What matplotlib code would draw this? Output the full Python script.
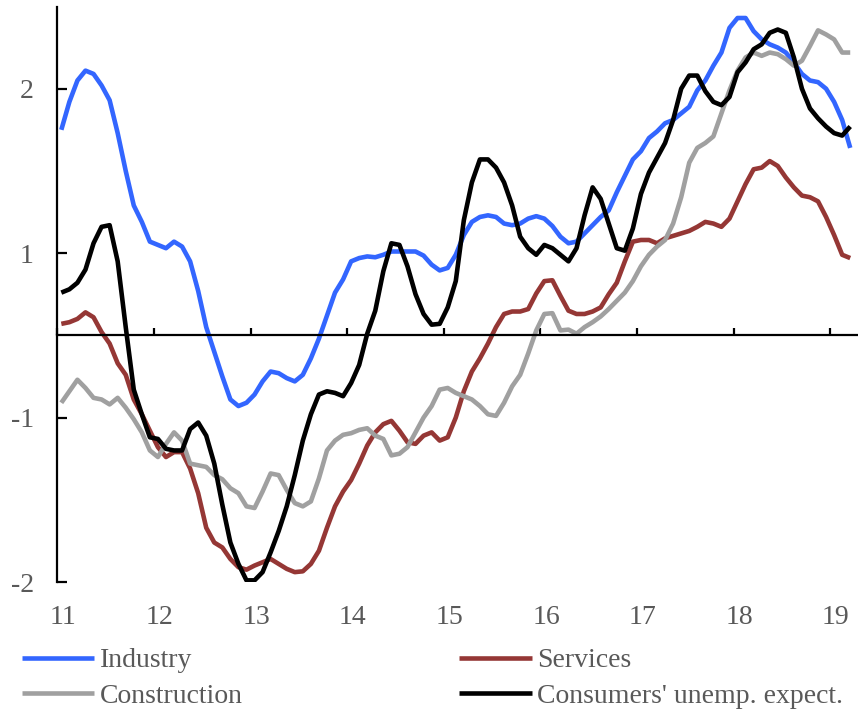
import numpy as np
import matplotlib
matplotlib.use("Agg")
import matplotlib.pyplot as plt

# ---- data (monthly, Jan 2011 - Mar 2019) ----
industry = [1.25, 1.42, 1.55, 1.61, 1.59, 1.52, 1.43, 1.23, 1.00, 0.79, 0.69, 0.57, 0.55, 0.53, 0.57, 0.54, 0.45, 0.27, 0.05, -0.10,
            -0.25, -0.39, -0.43, -0.41, -0.36, -0.28, -0.22, -0.23, -0.26, -0.28, -0.24, -0.14, -0.02, 0.12, 0.26, 0.34, 0.45, 0.47, 0.48, 0.475,
            0.49, 0.51, 0.51, 0.51, 0.51, 0.485, 0.43, 0.395, 0.41, 0.49, 0.61, 0.69, 0.72, 0.73, 0.72, 0.68, 0.67, 0.68, 0.71, 0.725,
            0.71, 0.665, 0.60, 0.56, 0.57, 0.62, 0.67, 0.72, 0.76, 0.87, 0.97, 1.07, 1.12, 1.20, 1.24, 1.29, 1.31, 1.35, 1.39, 1.49,
            1.55, 1.64, 1.72, 1.87, 1.93, 1.93, 1.85, 1.80, 1.77, 1.75, 1.72, 1.66, 1.59, 1.55, 1.54, 1.50, 1.42, 1.31, 1.14]

services = [0.07, 0.08, 0.10, 0.14, 0.11, 0.02, -0.05, -0.17, -0.24, -0.39, -0.48, -0.58, -0.68, -0.74, -0.71, -0.71, -0.81, -0.96, -1.17, -1.26,
            -1.29, -1.36, -1.41, -1.425, -1.40, -1.38, -1.36, -1.39, -1.42, -1.44, -1.435, -1.39, -1.31, -1.17, -1.04, -0.95, -0.88, -0.78, -0.67, -0.59,
            -0.54, -0.52, -0.58, -0.65, -0.66, -0.61, -0.59, -0.64, -0.62, -0.50, -0.34, -0.22, -0.14, -0.05, 0.05, 0.13, 0.145, 0.145, 0.16, 0.255,
            0.33, 0.335, 0.24, 0.15, 0.13, 0.13, 0.145, 0.17, 0.25, 0.32, 0.45, 0.57, 0.58, 0.58, 0.56, 0.59, 0.605, 0.62, 0.635, 0.66,
            0.69, 0.68, 0.66, 0.71, 0.815, 0.92, 1.01, 1.02, 1.06, 1.03, 0.96, 0.90, 0.85, 0.84, 0.815, 0.72, 0.61, 0.49, 0.47]

construction = [-0.41, -0.34, -0.27, -0.32, -0.38, -0.39, -0.42, -0.38, -0.44, -0.51, -0.59, -0.70, -0.74, -0.66, -0.59, -0.64, -0.78, -0.79, -0.80, -0.85,
                -0.875, -0.93, -0.96, -1.04, -1.05, -0.95, -0.84, -0.85, -0.94, -1.02, -1.04, -1.01, -0.87, -0.70, -0.64, -0.605, -0.595, -0.575, -0.565, -0.61,
                -0.63, -0.73, -0.72, -0.68, -0.59, -0.50, -0.43, -0.33, -0.32, -0.35, -0.37, -0.39, -0.43, -0.48, -0.49, -0.41, -0.31, -0.24, -0.11, 0.03,
                0.13, 0.135, 0.03, 0.035, 0.01, 0.05, 0.08, 0.115, 0.16, 0.21, 0.26, 0.33, 0.42, 0.49, 0.54, 0.58, 0.68, 0.84, 1.05, 1.14,
                1.17, 1.21, 1.35, 1.49, 1.61, 1.69, 1.72, 1.70, 1.72, 1.71, 1.68, 1.64, 1.67, 1.76, 1.855, 1.83, 1.80, 1.72, 1.72]

consumers = [0.26, 0.28, 0.32, 0.40, 0.56, 0.66, 0.67, 0.45, 0.05, -0.33, -0.48, -0.62, -0.63, -0.69, -0.70, -0.70, -0.57, -0.53, -0.61, -0.78,
             -1.03, -1.26, -1.39, -1.49, -1.49, -1.44, -1.32, -1.19, -1.04, -0.85, -0.64, -0.48, -0.36, -0.34, -0.35, -0.37, -0.29, -0.18, 0.01, 0.15,
             0.39, 0.56, 0.55, 0.42, 0.25, 0.13, 0.065, 0.07, 0.17, 0.33, 0.70, 0.93, 1.07, 1.07, 1.02, 0.93, 0.79, 0.60, 0.53, 0.49,
             0.55, 0.53, 0.49, 0.45, 0.53, 0.73, 0.90, 0.83, 0.68, 0.53, 0.515, 0.65, 0.86, 0.99, 1.08, 1.17, 1.31, 1.50, 1.58, 1.58,
             1.485, 1.42, 1.40, 1.45, 1.60, 1.66, 1.74, 1.77, 1.84, 1.86, 1.84, 1.69, 1.50, 1.38, 1.32, 1.27, 1.23, 1.215, 1.27]

series_names = ["Industry", "Services", "Construction", "Consumers' unemp. expect."]
series_colors = ["#3366FF", "#953735", "#A0A0A0", "#000000"]

year_ticks = [11, 12, 13, 14, 15, 16, 17, 18, 19]
year_labels = ["11", "12", "13", "14", "15", "16", "17", "18", "19"]
y_ticks = [-1.5, -0.5, 0.5, 1.5]
y_labels = ["-2", "-1", "1", "2"]

start_year = 11
months = np.arange(len(industry))
x = start_year + (months + 0.5) / 12.0

TXT = "#595959"
FS = 20
plt.rcParams['font.family'] = ['Liberation Serif', 'DejaVu Serif']

fig = plt.figure(figsize=(8.58, 7.15), dpi=100)
ax = fig.add_axes([57.3 / 858, 1 - 582 / 715, 1 - 57.3 / 858, (582 - 6.5) / 715])

data = [industry, services, construction, consumers]
handles = []
for vals, name, col in zip(data, series_names, series_colors):
    ln, = ax.plot(x, vals, color=col, lw=3.3, solid_joinstyle='round',
                  solid_capstyle='butt', label=name)
    handles.append(ln)

ax.set_xlim(11, 11 + (858 - 57.3) / 96.6)
ax.set_ylim(-1.5, 2.0)

for s in ['top', 'right']:
    ax.spines[s].set_visible(False)
ax.spines['left'].set_linewidth(1.6)
ax.spines['left'].set_color('black')
ax.spines['bottom'].set_position(('data', 0))
ax.spines['bottom'].set_linewidth(1.6)
ax.spines['bottom'].set_color('black')

ax.set_yticks(y_ticks)
ax.set_yticklabels(y_labels)
ax.tick_params(axis='y', direction='in', length=7.5, width=1.6, color='black',
               labelsize=FS, labelcolor=TXT, pad=17)

ax.set_xticks(year_ticks)
ax.set_xticklabels([])
ax.tick_params(axis='x', direction='in', length=5, width=1.6, color='black')

trans = matplotlib.transforms.blended_transform_factory(ax.transData, fig.transFigure)
for yr, lab in zip(year_ticks, year_labels):
    ax.text(yr + 0.06, 1 - 617 / 715, lab, transform=trans, ha='center', va='center',
            fontsize=FS, color=TXT, clip_on=False)

order = [0, 2, 1, 3]
leg = fig.legend([handles[i] for i in order], [series_names[i] for i in order],
                 ncol=2, loc='upper left', bbox_to_anchor=(22 / 858, 1 - 648 / 715),
                 frameon=False, fontsize=FS, handlelength=2.6, handletextpad=0.2,
                 columnspacing=7.8, labelspacing=0.35, borderpad=0, borderaxespad=0)
for t in leg.get_texts():
    t.set_color(TXT)

fig.savefig("out.png", dpi=100)
